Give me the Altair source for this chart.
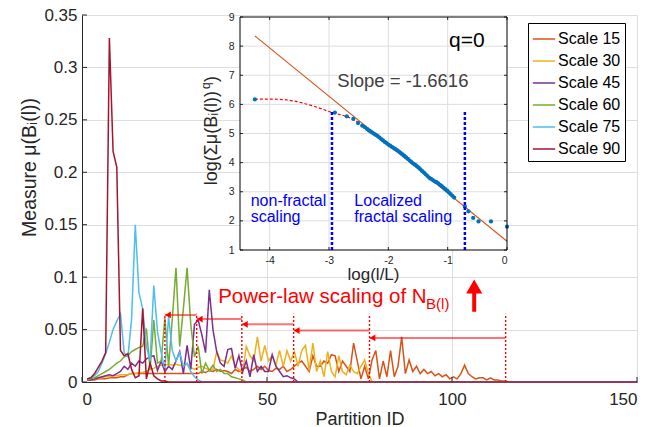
import altair as alt
import pandas as pd

FONT = "Liberation Sans"
AX = "#262626"
GRID = "#DEDEDE"

# ---------------- main chart data ----------------
series_names = ["Scale 15", "Scale 30", "Scale 45", "Scale 60", "Scale 75", "Scale 90"]
series_colors = ["#D95319", "#EDB120", "#7E2F8E", "#77AC30", "#4DBEEE", "#A2142F"]
pid_first = 1.4   # partition id of the first point of every series

scale15 = [0.002, 0.002, 0.002, 0.003, 0.003, 0.003, 0.004, 0.004, 0.004, 0.005,
           0.005, 0.007, 0.008, 0.008, 0.008, 0.008, 0.008, 0.008, 0.008, 0.008,
           0.008, 0.008, 0.008, 0.008, 0.008, 0.008, 0.008, 0.008, 0.008, 0.008,
           0.008, 0.010, 0.009, 0.011, 0.010, 0.012, 0.010, 0.011, 0.010, 0.008,
           0.012, 0.010, 0.012, 0.014, 0.010, 0.012, 0.015, 0.012, 0.015, 0.011,
           0.010, 0.013, 0.012, 0.015, 0.010, 0.012, 0.015, 0.018, 0.020, 0.015,
           0.010, 0.025, 0.015, 0.015, 0.020, 0.018, 0.026, 0.025, 0.010, 0.020,
           0.015, 0.010, 0.037, 0.020, 0.003, 0.015, 0.003, 0.021, 0.030, 0.003,
           0.020, 0.005, 0.030, 0.005, 0.015, 0.043, 0.008, 0.021, 0.010, 0.015,
           0.008, 0.012, 0.008, 0.010, 0.006, 0.008, 0.005, 0.007, 0.003, 0.005,
           0.003, 0.008, 0.016, 0.008, 0.005, 0.003, 0.004, 0.004, 0.002, 0.004,
           0.002, 0.002, 0.001, 0.001]
scale30 = [0.002, 0.003, 0.003, 0.004, 0.004, 0.005, 0.005, 0.006, 0.006, 0.007,
           0.007, 0.007, 0.008, 0.008, 0.009, 0.009, 0.010, 0.012, 0.013, 0.015,
           0.016, 0.016, 0.017, 0.016, 0.017, 0.016, 0.015, 0.017, 0.014, 0.012,
           0.014, 0.015, 0.013, 0.012, 0.012, 0.029, 0.021, 0.020, 0.018, 0.025,
           0.015, 0.012, 0.008, 0.034, 0.025, 0.020, 0.043, 0.020, 0.035, 0.020,
           0.025, 0.016, 0.030, 0.015, 0.030, 0.020, 0.029, 0.015, 0.030, 0.035,
           0.011, 0.037, 0.010, 0.020, 0.005, 0.029, 0.010, 0.005, 0.025, 0.010,
           0.007, 0.016, 0.010, 0.008, 0.015, 0.021, 0.008]
scale45 = [0.002, 0.002, 0.003, 0.004, 0.005, 0.006, 0.007, 0.006, 0.008, 0.010,
           0.015, 0.012, 0.018, 0.015, 0.020, 0.018, 0.022, 0.024, 0.025, 0.011,
           0.020, 0.010, 0.015, 0.012, 0.020, 0.029, 0.008, 0.035, 0.012, 0.055,
           0.059, 0.045, 0.028, 0.088, 0.050, 0.029, 0.018, 0.015, 0.031, 0.032,
           0.013, 0.025, 0.010, 0.020, 0.005, 0.026, 0.010, 0.015, 0.010, 0.010,
           0.026, 0.015, 0.010, 0.005, 0.006, 0.004, 0.003]
scale60 = [0.002, 0.003, 0.004, 0.006, 0.008, 0.010, 0.012, 0.015, 0.018, 0.020,
           0.024, 0.025, 0.029, 0.031, 0.033, 0.034, 0.051, 0.012, 0.059, 0.018,
           0.020, 0.061, 0.015, 0.060, 0.109, 0.034, 0.070, 0.109, 0.055, 0.024,
           0.034, 0.008, 0.018, 0.011, 0.016, 0.010, 0.012, 0.008, 0.008, 0.005,
           0.004, 0.003, 0.002]
scale75 = [0.003, 0.004, 0.006, 0.010, 0.018, 0.027, 0.038, 0.050, 0.058, 0.065,
           0.028, 0.024, 0.060, 0.150, 0.085, 0.070, 0.034, 0.020, 0.092, 0.048,
           0.028, 0.012, 0.062, 0.030, 0.020, 0.028, 0.015, 0.018, 0.010, 0.005,
           0.002]
scale90 = [0.003, 0.004, 0.008, 0.014, 0.020, 0.028, 0.328, 0.220, 0.205, 0.030,
           0.025, 0.027, 0.012, 0.004, 0.006, 0.070, 0.003, 0.018, 0.006, 0.003,
           0.001, 0.001]
all_series = [scale15, scale30, scale45, scale60, scale75, scale90]
pid_end = 150
main_xticks = [0, 50, 100, 150]
main_yticks = [0, 0.05, 0.1, 0.15, 0.2, 0.25, 0.3, 0.35]

rows = []
for name, vals in zip(series_names, all_series):
    for i, v in enumerate(vals):
        rows.append({"series": name, "pid": pid_first + i, "mu": v})
    rows.append({"series": name, "pid": pid_first + len(vals), "mu": 0.0})
    rows.append({"series": name, "pid": pid_end, "mu": 0.0})
df_lines = pd.DataFrame(rows)

# red annotations (main coordinates)
bound_ids = [114.5, 77.7, 57.2, 43.2, 31.0, 22.4]
bound_top = 0.065
arrow_y = [0.042, 0.049, 0.055, 0.060, 0.064]
up_arrow = {"pid": 106.0, "y0": 0.067, "y1": 0.086, "head": 0.091}
label_main = "Power-law scaling of  N"
label_sub = "B(l)"
label_main_pos = (36.8, 0.0752)
label_sub_pos = (93.0, 0.0695)

df_bounds = pd.DataFrame({"pid": bound_ids, "y0": [0.0] * 6, "y1": [bound_top] * 6})
df_arrows = pd.DataFrame({"x_from": bound_ids[:-1], "x_to": bound_ids[1:], "y": arrow_y})
df_up = pd.DataFrame([up_arrow])
df_lab = pd.DataFrame([{"pid": label_main_pos[0], "y": label_main_pos[1], "t": label_main}])
df_sub = pd.DataFrame([{"pid": label_sub_pos[0], "y": label_sub_pos[1], "t": label_sub}])
df_mxt = pd.DataFrame({"pid": main_xticks})
df_myt = pd.DataFrame({"mu": main_yticks})

# ---------------- inset data ----------------
fit_x = [-4.25, 0.0]
fit_y = [8.35, 1.30]
curve_x = [-4.25, -3.95, -3.70, -3.45, -3.20, -2.95, -2.70, -2.48]
curve_y = [6.18, 6.18, 6.15, 6.05, 5.90, 5.72, 5.58, 5.36]
dots_x = [-4.25, -2.90, -2.70, -2.59, -2.51, -2.44,
          -2.40, -2.36, -2.33, -2.30, -2.27, -2.24, -2.21, -2.18, -2.15, -2.12,
          -2.09, -2.06, -2.03, -2.00, -1.97, -1.94, -1.91, -1.88, -1.85, -1.82,
          -1.79, -1.76, -1.73, -1.70, -1.67, -1.64, -1.61, -1.58, -1.55, -1.52,
          -1.49, -1.46, -1.43, -1.40, -1.37, -1.34, -1.31, -1.28, -1.25, -1.22,
          -1.19, -1.16, -1.13, -1.10, -1.07, -1.04, -1.01, -0.98, -0.95, -0.92,
          -0.89, -0.71, -0.65, -0.57, -0.48, -0.27, 0.0]
dots_y = [6.17, 5.72, 5.59, 5.50, 5.36, 5.27,
          5.22, 5.16, 5.11, 5.07, 5.03, 4.99, 4.95, 4.91, 4.86, 4.81,
          4.76, 4.71, 4.67, 4.62, 4.58, 4.54, 4.50, 4.46, 4.42, 4.38,
          4.33, 4.28, 4.23, 4.18, 4.13, 4.07, 4.02, 3.97, 3.93, 3.88,
          3.83, 3.77, 3.71, 3.66, 3.60, 3.54, 3.48, 3.44, 3.40, 3.36,
          3.33, 3.29, 3.24, 3.19, 3.14, 3.09, 3.04, 2.98, 2.92, 2.86,
          2.80, 2.49, 2.33, 2.10, 1.98, 1.98, 1.80]
cut_x = [-2.95, -0.71]
cut_top = 5.75
in_xdomain = [-4.5, 0.0]
in_ydomain = [1.0, 9.0]
in_xticks = [-4, -3, -2, -1, 0]
in_yticks = [1, 2, 3, 4, 5, 6, 7, 8, 9]

df_fit = pd.DataFrame({"lx": fit_x, "ly": fit_y})
df_curve = pd.DataFrame({"lx": curve_x, "ly": curve_y, "o": list(range(len(curve_x)))})
df_dots = pd.DataFrame({"lx": dots_x, "ly": dots_y})
df_cut = pd.DataFrame({"lx": cut_x, "y0": [1.0, 1.0], "y1": [cut_top, cut_top]})
df_box = pd.DataFrame([{"x0": in_xdomain[0], "x1": in_xdomain[1],
                        "y0": in_ydomain[0], "y1": in_ydomain[1]}])
df_gv = pd.DataFrame({"lx": in_xticks[:-1], "y0": in_ydomain[0], "y1": in_ydomain[1]})
df_gh = pd.DataFrame({"ly": in_yticks[1:-1], "x0": in_xdomain[0], "x1": in_xdomain[1]})
df_itb = pd.DataFrame({"lx": in_xticks, "ly": in_ydomain[0]})
df_itt = pd.DataFrame({"lx": in_xticks, "ly": in_ydomain[1]})
df_itl = pd.DataFrame({"ly": in_yticks, "lx": in_xdomain[0]})
df_itr = pd.DataFrame({"ly": in_yticks, "lx": in_xdomain[1]})

inset_texts = pd.DataFrame([
    {"lx": -0.977, "ly": 7.98, "t": "q=0", "size": 21, "color": "#000000"},
    {"lx": -2.86, "ly": 6.59, "t": "Slope = -1.6616", "size": 18.5, "color": "#404040"},
    {"lx": -4.32, "ly": 2.51, "t": "non-fractal", "size": 16, "color": "#0000FF"},
    {"lx": -4.32, "ly": 1.97, "t": "scaling", "size": 16, "color": "#0000FF"},
    {"lx": -2.573, "ly": 2.51, "t": "Localized", "size": 16, "color": "#0000FF"},
    {"lx": -2.573, "ly": 1.97, "t": "fractal scaling", "size": 16, "color": "#0000FF"},
])
ytitle_parts = pd.DataFrame([
    {"lx": -4.888, "ly": 3.22, "t": "log(Σμ(Bᵢ(l))", "size": 18},
    {"lx": -5.006, "ly": 6.53, "t": "q", "size": 12},
    {"lx": -4.888, "ly": 6.77, "t": ")", "size": 18},
])
xtitle_inset = pd.DataFrame([{"lx": -2.25, "ly": -0.03, "t": "log(l/L)"}])

# ---------------- scales ----------------
xs_main = alt.Scale(domain=[0, 150], nice=False)
ys_main = alt.Scale(domain=[0, 0.35], nice=False)
xs_in = alt.Scale(domain=in_xdomain, range=[158, 425], nice=False)
ys_in = alt.Scale(domain=in_ydomain, range=[235, 2], nice=False)

# ---------------- main layers ----------------
lines = alt.Chart(df_lines).mark_line(strokeWidth=1.5).encode(
    x=alt.X("pid:Q", scale=xs_main, axis=alt.Axis(
        values=main_xticks, title="Partition ID", grid=True, gridColor=GRID,
        ticks=False, domainColor=AX, labelColor=AX, titleColor=AX,
        labelFontSize=17, titleFontSize=18, labelFont=FONT, titleFont=FONT,
        titleFontWeight="normal", labelPadding=9, titlePadding=3)),
    y=alt.Y("mu:Q", scale=ys_main, axis=alt.Axis(
        values=main_yticks,
        labelExpr="format(datum.value, '~g')",
        title="Measure  μ(Bᵢ(l))", grid=True, gridColor=GRID,
        ticks=False, domainColor=AX, labelColor=AX, titleColor=AX,
        labelFontSize=17, titleFontSize=19.5, labelFont=FONT, titleFont=FONT,
        titleFontWeight="normal", labelPadding=5, titlePadding=4, titleY=152)),
    color=alt.Color("series:N", title=None,
                    scale=alt.Scale(domain=series_names, range=series_colors),
                    legend=alt.Legend(orient="none", legendX=446, legendY=8,
                                      symbolType="stroke", symbolSize=500,
                                      symbolStrokeWidth=1.5, labelFontSize=16,
                                      labelFont=FONT, labelColor="#000000",
                                      strokeColor="#000000", fillColor="#FFFFFF",
                                      padding=4, rowPadding=2, labelOffset=2)),
)

# inward tick marks of the main axes (MATLAB style)
mticks_x = alt.Chart(df_mxt).mark_rule(color=AX, strokeWidth=1, y2Offset=-5).encode(
    x=alt.X("pid:Q", scale=xs_main, axis=None),
    y=alt.value(367), y2=alt.value(367))
mticks_y = alt.Chart(df_myt).mark_rule(color=AX, strokeWidth=1, x2Offset=5).encode(
    y=alt.Y("mu:Q", scale=ys_main, axis=None),
    x=alt.value(0), x2=alt.value(0))

bounds = alt.Chart(df_bounds).mark_rule(color="#FF0000", strokeDash=[2, 2], strokeWidth=1.4).encode(
    x=alt.X("pid:Q", scale=xs_main, axis=None),
    y=alt.Y("y0:Q", scale=ys_main, axis=None), y2="y1:Q")

shafts = alt.Chart(df_arrows).mark_rule(color="#FF0000", opacity=0.55, strokeWidth=2).encode(
    x=alt.X("x_from:Q", scale=xs_main, axis=None), x2="x_to:Q",
    y=alt.Y("y:Q", scale=ys_main, axis=None))

heads = alt.Chart(df_arrows).mark_point(shape="triangle-left", filled=True, color="#FF0000",
                                        opacity=1, size=45, xOffset=3).encode(
    x=alt.X("x_to:Q", scale=xs_main, axis=None),
    y=alt.Y("y:Q", scale=ys_main, axis=None))

up_shaft = alt.Chart(df_up).mark_rule(color="#FF0000", strokeWidth=4).encode(
    x=alt.X("pid:Q", scale=xs_main, axis=None),
    y=alt.Y("y0:Q", scale=ys_main, axis=None), y2="y1:Q")

up_head = alt.Chart(df_up).mark_point(shape="triangle-up", filled=True, color="#FF0000",
                                      opacity=1, size=260).encode(
    x=alt.X("pid:Q", scale=xs_main, axis=None),
    y=alt.Y("head:Q", scale=ys_main, axis=None))

lab = alt.Chart(df_lab).mark_text(align="left", baseline="alphabetic", fontSize=20.5,
                                  font=FONT, color="#FF0000").encode(
    x=alt.X("pid:Q", scale=xs_main, axis=None),
    y=alt.Y("y:Q", scale=ys_main, axis=None), text="t:N")

sub = alt.Chart(df_sub).mark_text(align="left", baseline="alphabetic", fontSize=15,
                                  font=FONT, color="#FF0000").encode(
    x=alt.X("pid:Q", scale=xs_main, axis=None),
    y=alt.Y("y:Q", scale=ys_main, axis=None), text="t:N")

# ---------------- inset layers ----------------
bg = alt.Chart(df_box).mark_rect(fill="#FFFFFF").encode(
    x=alt.X("x0:Q", scale=xs_in, axis=alt.Axis(
        orient="bottom", offset=-132, values=in_xticks, labelExpr="'' + datum.value",
        grid=False, ticks=False, domain=False, labelFontSize=10.5, labelFont=FONT,
        labelColor=AX, labelPadding=5, title=None, zindex=1)),
    x2="x1:Q",
    y=alt.Y("y0:Q", scale=ys_in, axis=alt.Axis(
        orient="left", offset=-158, values=in_yticks, labelExpr="'' + datum.value",
        grid=False, ticks=False, domain=False, labelFontSize=10.5, labelFont=FONT,
        labelColor=AX, labelPadding=6, title=None, zindex=1)),
    y2="y1:Q")

gv = alt.Chart(df_gv).mark_rule(color=GRID, strokeWidth=1).encode(
    x=alt.X("lx:Q", scale=xs_in, axis=None),
    y=alt.Y("y0:Q", scale=ys_in, axis=None), y2="y1:Q")
gh = alt.Chart(df_gh).mark_rule(color=GRID, strokeWidth=1).encode(
    y=alt.Y("ly:Q", scale=ys_in, axis=None),
    x=alt.X("x0:Q", scale=xs_in, axis=None), x2="x1:Q")

def inset_ticks(df, **offs):
    return alt.Chart(df).mark_rule(color=AX, strokeWidth=1, **offs).encode(
        x=alt.X("lx:Q", scale=xs_in, axis=None), x2="lx:Q",
        y=alt.Y("ly:Q", scale=ys_in, axis=None), y2="ly:Q")

itb = inset_ticks(df_itb, y2Offset=-3)
itt = inset_ticks(df_itt, y2Offset=3)
itl = inset_ticks(df_itl, x2Offset=3)
itr = inset_ticks(df_itr, x2Offset=-3)

fit = alt.Chart(df_fit).mark_line(color="#D95319", strokeWidth=1.1).encode(
    x=alt.X("lx:Q", scale=xs_in, axis=None),
    y=alt.Y("ly:Q", scale=ys_in, axis=None))

curve = alt.Chart(df_curve).mark_line(color="#FF0000", strokeWidth=1.2, strokeDash=[3, 2],
                                      interpolate="monotone").encode(
    x=alt.X("lx:Q", scale=xs_in, axis=None),
    y=alt.Y("ly:Q", scale=ys_in, axis=None), order="o:Q")

dots = alt.Chart(df_dots).mark_circle(color="#0072BD", size=18, opacity=1).encode(
    x=alt.X("lx:Q", scale=xs_in, axis=None),
    y=alt.Y("ly:Q", scale=ys_in, axis=None))

cuts = alt.Chart(df_cut).mark_rule(color="#0000FF", strokeWidth=2.5, strokeDash=[3, 2]).encode(
    x=alt.X("lx:Q", scale=xs_in, axis=None),
    y=alt.Y("y0:Q", scale=ys_in, axis=None), y2="y1:Q")

itexts = alt.Chart(inset_texts).mark_text(align="left", baseline="alphabetic", font=FONT).encode(
    x=alt.X("lx:Q", scale=xs_in, axis=None),
    y=alt.Y("ly:Q", scale=ys_in, axis=None),
    text="t:N",
    size=alt.Size("size:Q", scale=None, legend=None),
    color=alt.Color("color:N", scale=None, legend=None))

ytitle = alt.Chart(ytitle_parts).mark_text(align="left", baseline="alphabetic", font=FONT,
                                           angle=270, color=AX).encode(
    x=alt.X("lx:Q", scale=xs_in, axis=None),
    y=alt.Y("ly:Q", scale=ys_in, axis=None),
    text="t:N",
    size=alt.Size("size:Q", scale=None, legend=None))

xtitle = alt.Chart(xtitle_inset).mark_text(align="center", baseline="alphabetic", font=FONT,
                                           fontSize=17, color=AX).encode(
    x=alt.X("lx:Q", scale=xs_in, axis=None),
    y=alt.Y("ly:Q", scale=ys_in, axis=None),
    text="t:N")

frame = alt.Chart(df_box).mark_rect(fill="#FFFFFF", fillOpacity=0, stroke="#000000",
                                    strokeWidth=1).encode(
    x=alt.X("x0:Q", scale=xs_in, axis=None), x2="x1:Q",
    y=alt.Y("y0:Q", scale=ys_in, axis=None), y2="y1:Q")

chart = alt.layer(
    lines, mticks_x, mticks_y, bounds, shafts, heads, up_shaft, up_head, lab, sub,
    bg, gv, gh, itb, itt, itl, itr, fit, curve, dots, cuts, itexts, ytitle, xtitle, frame
).resolve_scale(
    x="independent", y="independent", color="independent", size="independent"
).properties(
    width=555, height=367,
    padding={"left": 82, "top": 15, "right": 14, "bottom": 45},
    autosize=alt.AutoSizeParams(type="none"),
    background="#FFFFFF",
).configure_view(stroke=None)

chart.save("out.html", embed_options={"renderer": "svg", "actions": False})
